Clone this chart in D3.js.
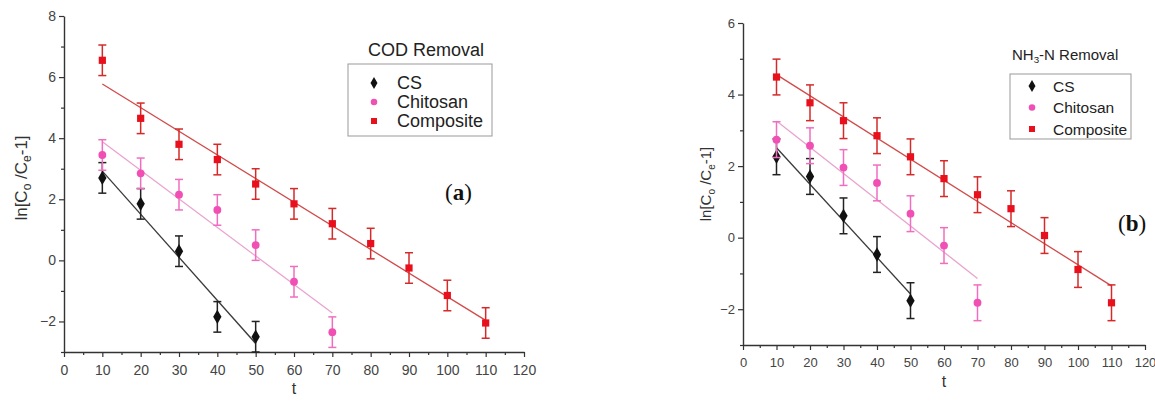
<!DOCTYPE html>
<html>
<head>
<meta charset="utf-8">
<script src="https://cdn.jsdelivr.net/npm/d3@7"></script>
<style>
body { margin: 0; background: #fff; }
</style>
</head>
<body>
<div id="chart"></div>
<script>
var width = 1155,
    height = 405;

// sampling times
var tCS = [10, 20, 30, 40, 50];
var tChitosan = [10, 20, 30, 40, 50, 60, 70];
var tComposite = [10, 20, 30, 40, 50, 60, 70, 80, 90, 100, 110];

// (a) COD removal
var codCS = [2.7, 1.85, 0.3, -1.85, -2.5];
var codChitosan = [3.45, 2.85, 2.15, 1.65, 0.5, -0.7, -2.35];
var codComposite = [6.55, 4.65, 3.8, 3.3, 2.5, 1.85, 1.2, 0.55, -0.25, -1.15, -2.05];

// (b) NH3-N removal
var nhCS = [2.26, 1.71, 0.61, -0.47, -1.76];
var nhChitosan = [2.74, 2.57, 1.96, 1.53, 0.67, -0.22, -1.82];
var nhComposite = [4.49, 3.77, 3.27, 2.85, 2.26, 1.65, 1.2, 0.81, 0.06, -0.89, -1.82];

var errBar = 0.5;

var seriesNames = ['CS', 'Chitosan', 'Composite'];
var xTicks = [0, 10, 20, 30, 40, 50, 60, 70, 80, 90, 100, 110, 120];

var sans = 'Arial, "Liberation Sans", sans-serif';
var serif = '"Liberation Serif", "DejaVu Serif", serif';

var styles = {
    'CS': {marker: '#111', bar: '#222', line: '#3a3a3a', symbol: d3.symbolDiamond, size: 60},
    'Chitosan': {marker: '#f04fb4', bar: '#f06ec0', line: '#e9a3cf', symbol: d3.symbolCircle, size: 48},
    'Composite': {marker: '#e8101c', bar: '#d42a2a', line: '#d24a4a', symbol: d3.symbolSquare, size: 52}
};

var svg = d3.select('#chart')
    .append('svg')
    .attr('width', width)
    .attr('height', height)
    .style('font-family', sans);

function fit(xs, ys) {
    var mx = d3.mean(xs), my = d3.mean(ys);
    var sxy = d3.sum(xs, (x, i) => (x - mx) * (ys[i] - my));
    var sxx = d3.sum(xs, x => (x - mx) * (x - mx));
    var b = sxy / sxx;
    return x => my + b * (x - mx);
}

function drawPanel(p) {
    var x = d3.scaleLinear().domain([0, 120]).range([p.left, p.right]);
    var y = d3.scaleLinear().domain([-3, p.yMax]).range([p.bottom, p.top]);
    var g = svg.append('g');

    // minor ticks
    g.append('g')
        .attr('transform', 'translate(0,' + p.bottom + ')')
        .call(d3.axisBottom(x).tickValues(d3.range(5, 120, 10)).tickSize(3).tickFormat(''))
        .call(a => a.select('.domain').remove());
    g.append('g')
        .attr('transform', 'translate(' + p.left + ',0)')
        .call(d3.axisLeft(y).tickValues(d3.range(-3, p.yMax, 2)).tickSize(3).tickFormat(''))
        .call(a => a.select('.domain').remove());

    var xa = g.append('g')
        .attr('transform', 'translate(0,' + p.bottom + ')')
        .call(d3.axisBottom(x).tickValues(xTicks).tickSize(5).tickSizeOuter(0));
    var ya = g.append('g')
        .attr('transform', 'translate(' + p.left + ',0)')
        .call(d3.axisLeft(y).tickValues(d3.range(-2, p.yMax + 1, 2)).tickSize(5).tickSizeOuter(0));

    g.selectAll('.domain').attr('stroke', '#333').attr('stroke-width', 1.4);
    g.selectAll('.tick line').attr('stroke', '#333').attr('stroke-width', 1.2);
    [xa, ya].forEach(a => a.selectAll('text')
        .attr('font-size', p.tickSize)
        .attr('fill', '#444')
        .attr('font-family', sans));
    xa.selectAll('text').attr('dy', '1.05em');

    // axis titles
    g.append('text')
        .attr('x', (p.left + p.right) / 2)
        .attr('y', p.bottom + 42)
        .attr('text-anchor', 'middle')
        .attr('font-size', 16)
        .attr('fill', '#333')
        .text('t');

    var yl = g.append('text')
        .attr('transform', 'translate(' + p.yLabelX + ',' + p.yLabelY + ')rotate(-90)')
        .attr('text-anchor', 'middle')
        .attr('font-size', p.yLabelSize)
        .attr('fill', '#333');
    var subSize = Math.round(p.yLabelSize * 0.68);
    yl.append('tspan').text('ln[C');
    yl.append('tspan').attr('font-size', subSize).attr('dy', 4).text('o');
    yl.append('tspan').attr('dy', -4).text(' /C');
    yl.append('tspan').attr('font-size', subSize).attr('dy', 4).text('e');
    yl.append('tspan').attr('dy', -4).text('-1]');

    // fit lines
    p.series.forEach(s => {
        var f = fit(s.t, s.v);
        var t0 = d3.min(s.t), t1 = d3.max(s.t);
        g.append('line')
            .attr('x1', x(t0)).attr('y1', y(f(t0)))
            .attr('x2', x(t1)).attr('y2', y(f(t1)))
            .attr('stroke', styles[s.name].line)
            .attr('stroke-width', 1.3);
    });

    // error bars + markers
    p.series.forEach(s => {
        var st = styles[s.name];
        var pts = s.t.map((t, i) => ({t: t, v: s.v[i]}));
        var eb = g.append('g').attr('stroke', st.bar).attr('stroke-width', 1.5);
        eb.selectAll('.v').data(pts).enter().append('line')
            .attr('x1', d => x(d.t)).attr('x2', d => x(d.t))
            .attr('y1', d => y(d.v - errBar)).attr('y2', d => y(d.v + errBar));
        eb.selectAll('.lo').data(pts).enter().append('line')
            .attr('x1', d => x(d.t) - 4).attr('x2', d => x(d.t) + 4)
            .attr('y1', d => y(d.v - errBar)).attr('y2', d => y(d.v - errBar));
        eb.selectAll('.hi').data(pts).enter().append('line')
            .attr('x1', d => x(d.t) - 4).attr('x2', d => x(d.t) + 4)
            .attr('y1', d => y(d.v + errBar)).attr('y2', d => y(d.v + errBar));
        g.selectAll(null).data(pts).enter().append('path')
            .attr('d', d3.symbol().type(st.symbol).size(st.size))
            .attr('transform', d => 'translate(' + x(d.t) + ',' + y(d.v) + ')')
            .attr('fill', st.marker);
    });

    // legend
    var lg = p.legend;
    var title = g.append('text')
        .attr('x', lg.titleX)
        .attr('y', lg.titleY)
        .attr('font-size', lg.titleSize)
        .attr('fill', '#222');
    lg.title.forEach(part => {
        var ts = title.append('tspan').text(part.text);
        if (part.sub) ts.attr('font-size', lg.titleSize * 0.65).attr('dy', 3);
        if (part.back) ts.attr('dy', -3);
    });
    g.append('rect')
        .attr('x', lg.x).attr('y', lg.y)
        .attr('width', lg.w).attr('height', lg.h)
        .attr('fill', '#fff')
        .attr('stroke', '#999')
        .attr('stroke-width', 1);
    seriesNames.forEach((name, i) => {
        var yy = lg.y + lg.first + i * lg.step;
        g.append('path')
            .attr('d', d3.symbol().type(styles[name].symbol).size(styles[name].size * 0.7))
            .attr('transform', 'translate(' + lg.markX + ',' + yy + ')')
            .attr('fill', styles[name].marker);
        g.append('text')
            .attr('x', lg.textX)
            .attr('y', yy)
            .attr('dy', '0.36em')
            .attr('font-size', lg.fontSize)
            .attr('fill', '#222')
            .text(name);
    });

    // panel tag
    var tag = g.append('text')
        .attr('x', p.tagX)
        .attr('y', p.tagY)
        .style('font-family', serif)
        .attr('font-size', 23)
        .attr('fill', '#111');
    tag.append('tspan').text('(');
    tag.append('tspan').attr('font-weight', 'bold').text(p.tag);
    tag.append('tspan').text(')');
}

drawPanel({
    left: 64, right: 524, top: 16, bottom: 352, yMax: 8,
    tickSize: 14,
    yLabelX: 27, yLabelY: 178, yLabelSize: 17,
    series: [
        {name: 'CS', t: tCS, v: codCS},
        {name: 'Chitosan', t: tChitosan, v: codChitosan},
        {name: 'Composite', t: tComposite, v: codComposite}
    ],
    legend: {
        title: [{text: 'COD Removal'}], titleX: 368, titleY: 56, titleSize: 18,
        x: 348, y: 64, w: 144, h: 72, first: 19, step: 19,
        markX: 374, textX: 397, fontSize: 18
    },
    tag: 'a', tagX: 445, tagY: 200
});

drawPanel({
    left: 743, right: 1145, top: 23, bottom: 345, yMax: 6,
    tickSize: 13,
    yLabelX: 711, yLabelY: 184, yLabelSize: 15,
    series: [
        {name: 'CS', t: tCS, v: nhCS},
        {name: 'Chitosan', t: tChitosan, v: nhChitosan},
        {name: 'Composite', t: tComposite, v: nhComposite}
    ],
    legend: {
        title: [{text: 'NH'}, {text: '3', sub: true}, {text: '-N Removal', back: true}],
        titleX: 1012, titleY: 60, titleSize: 15,
        x: 1010, y: 74, w: 121, h: 65, first: 12, step: 21.5,
        markX: 1032, textX: 1053, fontSize: 15.5
    },
    tag: 'b', tagX: 1118, tagY: 231
});
</script>
</body>
</html>
